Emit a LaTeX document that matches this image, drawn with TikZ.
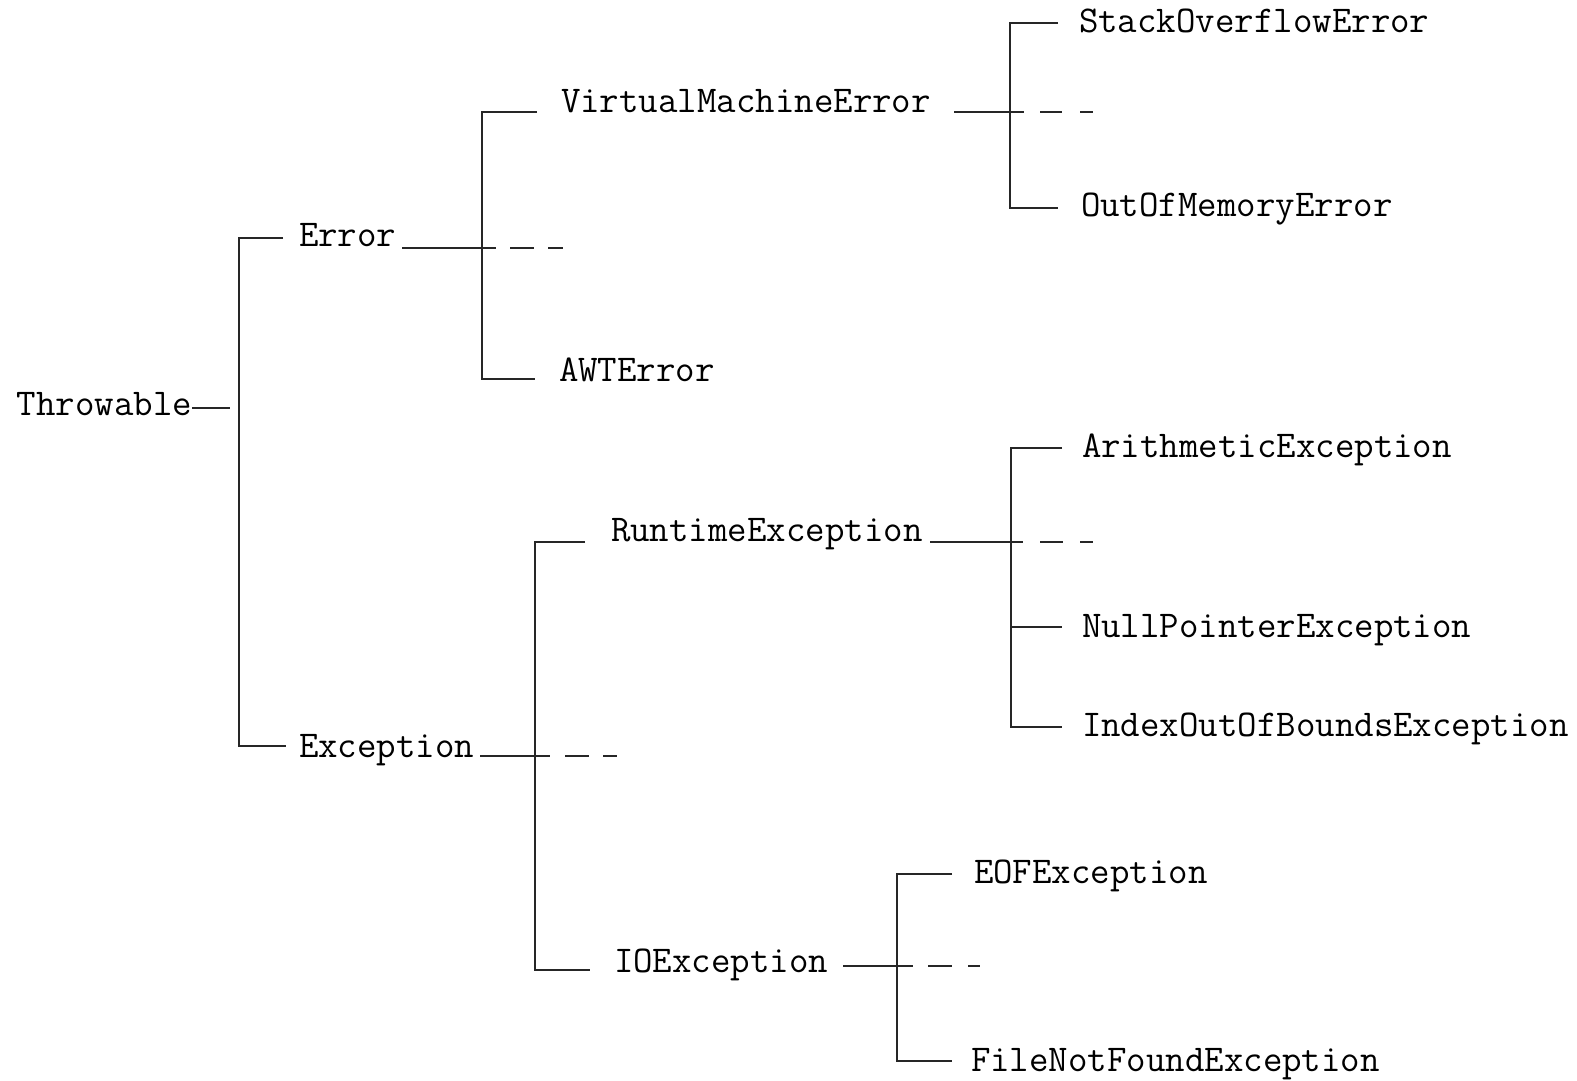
\documentclass[tikz,border=0pt]{standalone}
\usepackage{fontspec}
\begin{document}
\begin{tikzpicture}[x=0.5pt,y=-0.5pt,
  cls/.style={anchor=base west,inner sep=0pt,outer sep=0pt,font=\ttfamily\fontsize{18.9}{21}\selectfont},
  ln/.style={line width=1pt,draw=black!85}]
\useasboundingbox (0,0) rectangle (1577,1080);
% class nodes
\node[cls] (thr) at (17,415) {Throwable};
\node[cls] (err) at (299,247) {Error};
\node[cls] (exc) at (299,757) {Exception};
\node[cls] (vme) at (561,113) {VirtualMachineError};
\node[cls] (awt) at (559,381) {AWTError};
\node[cls] (soe) at (1079,33) {StackOverflowError};
\node[cls] (oom) at (1081,217) {OutOfMemoryError};
\node[cls] (rte) at (611,541) {RuntimeException};
\node[cls] (ioe) at (614,972) {IOException};
\node[cls] (ari) at (1082,457) {ArithmeticException};
\node[cls] (npe) at (1082,637) {NullPointerException};
\node[cls] (ioob) at (1082,736) {IndexOutOfBoundsException};
\node[cls] (eof) at (974,883) {EOFException};
\node[cls] (fnf) at (971,1071) {FileNotFoundException};
% Throwable
\coordinate (t0) at (192,408); \coordinate (t1) at (230,408);
\draw[ln] (t0) -- (t1);
\coordinate (jA1) at (239,238); \coordinate (jA2) at (239,746);
\coordinate (eA1) at (283,238); \coordinate (eA2) at (286,746);
\draw[ln] (eA1) -- (jA1) -- (jA2) -- (eA2);
% Error
\coordinate (te0) at (402,248); \coordinate (te1) at (496,248);
\draw[ln] (te0) -- (te1);
\draw[ln] (510,248) -- (534,248);
\draw[ln] (548,248) -- (563,248);
\coordinate (jB1) at (482,112); \coordinate (jB2) at (482,379);
\coordinate (eB1) at (537,112); \coordinate (eB2) at (535,379);
\draw[ln] (eB1) -- (jB1) -- (jB2) -- (eB2);
% VirtualMachineError
\coordinate (tv0) at (954,112); \coordinate (tv1) at (1024,112);
\draw[ln] (tv0) -- (tv1);
\draw[ln] (1040,112) -- (1062,112);
\draw[ln] (1080,112) -- (1093,112);
\coordinate (jC1) at (1010,23); \coordinate (jC2) at (1010,208);
\coordinate (eC1) at (1058,23); \coordinate (eC2) at (1058,208);
\draw[ln] (eC1) -- (jC1) -- (jC2) -- (eC2);
% Exception
\coordinate (tx0) at (480,756); \coordinate (tx1) at (550,756);
\draw[ln] (tx0) -- (tx1);
\draw[ln] (565,756) -- (589,756);
\draw[ln] (603,756) -- (617,756);
\coordinate (jD1) at (535,542); \coordinate (jD2) at (535,970);
\coordinate (eD1) at (585,542); \coordinate (eD2) at (590,970);
\draw[ln] (eD1) -- (jD1) -- (jD2) -- (eD2);
% RuntimeException
\coordinate (tr0) at (930,542); \coordinate (tr1) at (1023,542);
\draw[ln] (tr0) -- (tr1);
\draw[ln] (1040,542) -- (1063,542);
\draw[ln] (1080,542) -- (1093,542);
\coordinate (jE1) at (1011,448); \coordinate (jE2) at (1011,727);
\coordinate (eE1) at (1062,448); \coordinate (eE2) at (1062,627); \coordinate (eE3) at (1062,727);
\coordinate (jE3) at (1011,627);
\draw[ln] (eE1) -- (jE1) -- (jE2) -- (eE3);
\draw[ln] (jE3) -- (eE2);
% IOException
\coordinate (ti0) at (843,966); \coordinate (ti1) at (913,966);
\draw[ln] (ti0) -- (ti1);
\draw[ln] (928,966) -- (952,966);
\draw[ln] (968,966) -- (980,966);
\coordinate (jF1) at (897,874); \coordinate (jF2) at (897,1061);
\coordinate (eF1) at (952,874); \coordinate (eF2) at (952,1061);
\draw[ln] (eF1) -- (jF1) -- (jF2) -- (eF2);
\end{tikzpicture}
\end{document}
